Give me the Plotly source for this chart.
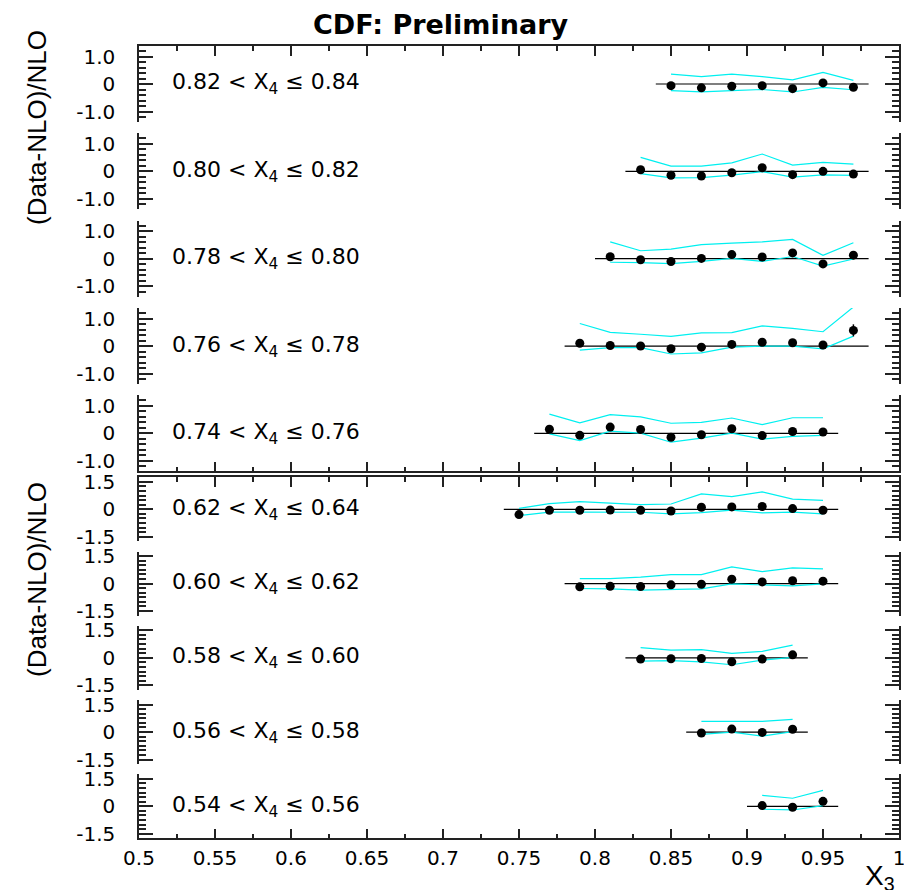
import plotly.graph_objects as go

# ---------------- data ----------------
x_tick_vals = [0.5, 0.55, 0.6, 0.65, 0.7, 0.75, 0.8, 0.85, 0.9, 0.95, 1.0]
x_tick_text = ["0.5", "0.55", "0.6", "0.65", "0.7", "0.75", "0.8", "0.85", "0.9", "0.95", "1"]
top_y_tick_vals = [-1.0, 0.0, 1.0]
top_y_tick_text = ["-1.0", "0", "1.0"]
bot_y_tick_vals = [-1.5, 0.0, 1.5]
bot_y_tick_text = ["-1.5", "0", "1.5"]

labels = [
    "0.82 &lt; X<sub>4</sub> ≤ 0.84",
    "0.80 &lt; X<sub>4</sub> ≤ 0.82",
    "0.78 &lt; X<sub>4</sub> ≤ 0.80",
    "0.76 &lt; X<sub>4</sub> ≤ 0.78",
    "0.74 &lt; X<sub>4</sub> ≤ 0.76",
    "0.62 &lt; X<sub>4</sub> ≤ 0.64",
    "0.60 &lt; X<sub>4</sub> ≤ 0.62",
    "0.58 &lt; X<sub>4</sub> ≤ 0.60",
    "0.56 &lt; X<sub>4</sub> ≤ 0.58",
    "0.54 &lt; X<sub>4</sub> ≤ 0.56",
]

p1_x = [0.85, 0.87, 0.89, 0.91, 0.93, 0.95, 0.97]
p1_y = [-0.06, -0.14, -0.08, -0.06, -0.17, 0.04, -0.12]
p1_hi = [0.36, 0.27, 0.36, 0.27, 0.15, 0.42, 0.13]
p1_lo = [-0.24, -0.29, -0.24, -0.20, -0.29, -0.12, -0.21]
p1_err = [0.05, 0.05, 0.05, 0.05, 0.05, 0.06, 0.06]

p2_x = [0.83, 0.85, 0.87, 0.89, 0.91, 0.93, 0.95, 0.97]
p2_y = [0.06, -0.14, -0.17, -0.05, 0.13, -0.12, 0.00, -0.10]
p2_hi = [0.51, 0.19, 0.19, 0.31, 0.63, 0.23, 0.33, 0.26]
p2_lo = [-0.08, -0.24, -0.23, -0.14, -0.01, -0.21, -0.13, -0.15]
p2_err = [0.06, 0.05, 0.05, 0.05, 0.05, 0.05, 0.05, 0.06]

p3_x = [0.81, 0.83, 0.85, 0.87, 0.89, 0.91, 0.93, 0.95, 0.97]
p3_y = [0.07, -0.04, -0.10, 0.01, 0.15, 0.06, 0.21, -0.19, 0.13]
p3_hi = [0.61, 0.29, 0.35, 0.51, 0.57, 0.61, 0.70, 0.12, 0.58]
p3_lo = [-0.13, -0.14, -0.18, -0.10, 0.01, -0.10, 0.08, -0.27, -0.01]
p3_err = [0.06, 0.05, 0.05, 0.05, 0.05, 0.05, 0.05, 0.05, 0.08]

p4_x = [0.79, 0.81, 0.83, 0.85, 0.87, 0.89, 0.91, 0.93, 0.95, 0.97]
p4_y = [0.10, 0.02, 0.00, -0.10, -0.04, 0.06, 0.14, 0.12, 0.04, 0.57]
p4_hi = [0.82, 0.50, 0.43, 0.35, 0.48, 0.49, 0.73, 0.64, 0.52, 1.42]
p4_lo = [-0.15, -0.06, -0.06, -0.29, -0.25, -0.04, 0.00, 0.00, -0.10, 0.36]
p4_err = [0.10, 0.05, 0.08, 0.05, 0.05, 0.05, 0.05, 0.05, 0.05, 0.22]

p5_x = [0.77, 0.79, 0.81, 0.83, 0.85, 0.87, 0.89, 0.91, 0.93, 0.95]
p5_y = [0.15, -0.07, 0.23, 0.14, -0.14, -0.05, 0.17, -0.08, 0.07, 0.05]
p5_hi = [0.70, 0.38, 0.68, 0.60, 0.37, 0.40, 0.56, 0.32, 0.57, 0.57]
p5_lo = [-0.02, -0.26, 0.08, 0.01, -0.32, -0.17, 0.01, -0.21, -0.11, -0.07]
p5_err = [0.11, 0.05, 0.13, 0.08, 0.05, 0.05, 0.05, 0.05, 0.05, 0.05]

p6_x = [0.75, 0.77, 0.79, 0.81, 0.83, 0.85, 0.87, 0.89, 0.91, 0.93, 0.95]
p6_y = [-0.29, -0.05, -0.05, -0.04, -0.05, -0.09, 0.11, 0.13, 0.15, 0.04, -0.05]
p6_hi = [0.05, 0.31, 0.42, 0.33, 0.25, 0.29, 0.84, 0.69, 0.95, 0.56, 0.49]
p6_lo = [-0.35, -0.15, -0.15, -0.15, -0.16, -0.25, -0.18, -0.05, -0.20, -0.15, -0.25]
p6_err = [0.06, 0.05, 0.05, 0.05, 0.05, 0.05, 0.05, 0.05, 0.05, 0.05, 0.05]

p7_x = [0.79, 0.81, 0.83, 0.85, 0.87, 0.89, 0.91, 0.93, 0.95]
p7_y = [-0.18, -0.15, -0.16, -0.07, -0.04, 0.24, 0.09, 0.15, 0.13]
p7_hi = [0.27, 0.27, 0.35, 0.49, 0.49, 0.91, 0.65, 0.85, 0.80]
p7_lo = [-0.27, -0.29, -0.36, -0.33, -0.29, -0.02, -0.09, -0.13, -0.02]
p7_err = [0.05, 0.05, 0.05, 0.05, 0.05, 0.06, 0.05, 0.05, 0.05]

p8_x = [0.83, 0.85, 0.87, 0.89, 0.91, 0.93]
p8_y = [-0.07, -0.05, -0.04, -0.22, -0.07, 0.16]
p8_hi = [0.56, 0.42, 0.45, 0.24, 0.35, 0.69]
p8_lo = [-0.18, -0.15, -0.22, -0.38, -0.13, 0.02]
p8_err = [0.05, 0.05, 0.05, 0.06, 0.05, 0.06]

p9_x = [0.87, 0.89, 0.91, 0.93]
p9_y = [-0.05, 0.16, -0.02, 0.15]
p9_hi = [0.58, 0.58, 0.58, 0.69]
p9_lo = [-0.13, 0.00, -0.22, 0.02]
p9_err = [0.05, 0.06, 0.05, 0.06]

p10_x = [0.91, 0.93, 0.95]
p10_y = [0.04, -0.05, 0.27]
p10_hi = [0.60, 0.44, 0.87]
p10_lo = [-0.16, -0.20, 0.04]
p10_err = [0.05, 0.05, 0.08]

bin_half_width = 0.01

panels = [
    (p1_x, p1_y, p1_hi, p1_lo, p1_err),
    (p2_x, p2_y, p2_hi, p2_lo, p2_err),
    (p3_x, p3_y, p3_hi, p3_lo, p3_err),
    (p4_x, p4_y, p4_hi, p4_lo, p4_err),
    (p5_x, p5_y, p5_hi, p5_lo, p5_err),
    (p6_x, p6_y, p6_hi, p6_lo, p6_err),
    (p7_x, p7_y, p7_hi, p7_lo, p7_err),
    (p8_x, p8_y, p8_hi, p8_lo, p8_err),
    (p9_x, p9_y, p9_hi, p9_lo, p9_err),
    (p10_x, p10_y, p10_hi, p10_lo, p10_err),
]

# ---------------- layout geometry (pixels) ----------------
W, H = 904, 890
X_LEFT, X_RIGHT = 139, 899
TOP_C0, TOP_STEP, TOP_HALF, TOP_R = 84.0, 87.35, 38.0, 1.382
BOT_C0, BOT_STEP, BOT_HALF, BOT_R = 509.3, 74.25, 32.0, 1.746

CYAN = "#00F0F0"
AXC = "#222222"
TICKFONT = dict(family="DejaVu Sans, Liberation Sans, Arial", size=20, color="black")
LABELFONT = dict(family="DejaVu Sans, Liberation Sans, Arial", size=22, color="black")


def py(p):
    return 1 - p / H


fig = go.Figure()
layout = dict(
    width=W, height=H,
    margin=dict(l=0, r=0, t=0, b=0, pad=0),
    paper_bgcolor="white", plot_bgcolor="white",
    showlegend=False,
)
annotations = []

for i, (xs, ys, his, los, errs) in enumerate(panels):
    n = i + 1
    sfx = "" if n == 1 else str(n)
    top_group = i < 5
    j = i if top_group else i - 5
    if top_group:
        c = TOP_C0 + TOP_STEP * j
        half, R = TOP_HALF, TOP_R
        tv, tt, mdt = top_y_tick_vals, top_y_tick_text, 0.2
    else:
        c = BOT_C0 + BOT_STEP * j
        half, R = BOT_HALF, BOT_R
        tv, tt, mdt = bot_y_tick_vals, bot_y_tick_text, 0.25

    ydom = [py(c + half), py(c - half)]
    layout["yaxis" + sfx] = dict(
        domain=ydom, range=[-R, R], anchor="x" + sfx,
        tickmode="array", tickvals=tv, ticktext=tt,
        ticks="inside", ticklen=14, tickwidth=1.5, tickcolor=AXC,
        minor=dict(ticks="inside", ticklen=7, dtick=mdt, tick0=0,
                   tickcolor=AXC, tickwidth=1.5, showgrid=False),
        showline=True, linecolor=AXC, linewidth=1.5, mirror="allticks",
        showgrid=False, zeroline=False, tickfont=TICKFONT,
        ticklabelstandoff=18, automargin=False, fixedrange=True,
    )

    xa = dict(
        domain=[X_LEFT / W, X_RIGHT / W], range=[0.5, 1.0], anchor="y" + sfx,
        showgrid=False, zeroline=False, automargin=False, fixedrange=True,
        tickmode="array", tickvals=x_tick_vals, ticktext=x_tick_text,
        tickfont=TICKFONT, ticklabeloverflow="allow",
    )
    if j == 0 or j == 4:
        xa.update(
            side="top" if j == 0 else "bottom",
            showline=True, linecolor=AXC, linewidth=1.5,
            ticks="inside", ticklen=10, tickwidth=1.5, tickcolor=AXC,
            minor=dict(ticks="inside", ticklen=5, dtick=0.025, tick0=0.5,
                       tickcolor=AXC, tickwidth=1.5, showgrid=False),
            showticklabels=(i == 9), ticklabelstandoff=1,
        )
    else:
        xa.update(showline=False, ticks="", showticklabels=False)
    layout["xaxis" + sfx] = xa

    xr, yr = "x" + sfx, "y" + sfx
    fig.add_trace(go.Scatter(
        x=[min(xs) - bin_half_width, max(xs) + bin_half_width], y=[0, 0],
        mode="lines", line=dict(color="black", width=1.2),
        xaxis=xr, yaxis=yr, hoverinfo="skip"))
    fig.add_trace(go.Scatter(x=xs, y=his, mode="lines", line=dict(color=CYAN, width=1.2),
                             xaxis=xr, yaxis=yr))
    fig.add_trace(go.Scatter(x=xs, y=los, mode="lines", line=dict(color=CYAN, width=1.2),
                             xaxis=xr, yaxis=yr))
    fig.add_trace(go.Scatter(
        x=xs, y=ys, mode="markers",
        marker=dict(color="black", size=9, symbol="circle"),
        error_y=dict(type="data", array=errs, visible=True, color="black", thickness=1.5, width=0),
        xaxis=xr, yaxis=yr))

    annotations.append(dict(
        text=labels[i], xref="paper", yref="paper",
        x=170 / W, y=py(c), xanchor="left", yanchor="middle",
        showarrow=False, font=LABELFONT))

annotations.append(dict(
    text="<b>CDF: Preliminary</b>", xref="paper", yref="paper",
    x=440 / W, y=py(24), xanchor="center", yanchor="middle", showarrow=False,
    font=dict(family="DejaVu Sans, Liberation Sans, Arial", size=27, color="black")))
for yc in (128, 580):
    annotations.append(dict(
        text="(Data-NLO)/NLO", xref="paper", yref="paper",
        x=37 / W, y=py(yc), xanchor="center", yanchor="middle", textangle=-90,
        showarrow=False,
        font=dict(family="Liberation Sans, Arial", size=26, color="black")))
annotations.append(dict(
    text="X<sub>3</sub>", xref="paper", yref="paper",
    x=880 / W, y=py(877), xanchor="center", yanchor="middle", showarrow=False,
    font=dict(family="Liberation Sans, Arial", size=28, color="black")))

layout["annotations"] = annotations
fig.update_layout(**layout)
fig.write_html("out.html")
